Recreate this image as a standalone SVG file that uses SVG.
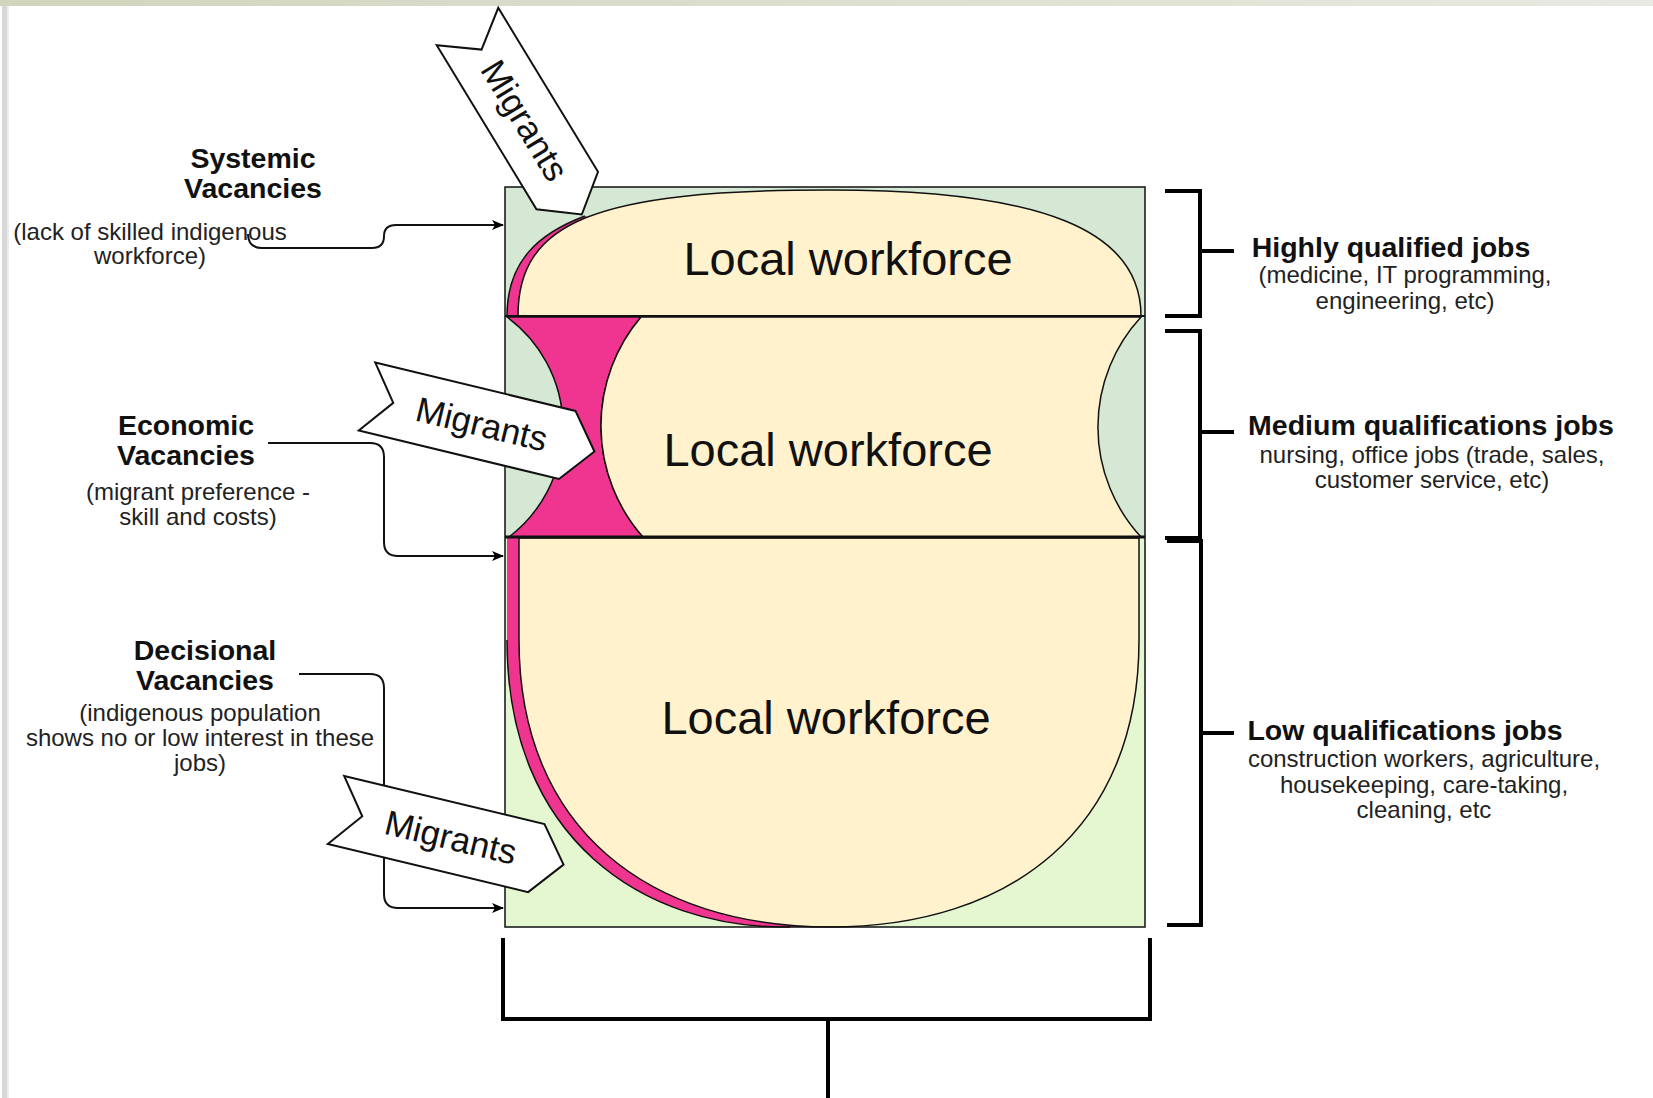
<svg xmlns="http://www.w3.org/2000/svg" width="1653" height="1098" viewBox="0 0 1653 1098">
<defs>
<linearGradient id="band" x1="0" y1="0" x2="1" y2="0">
<stop offset="0" stop-color="#d1d5bd"/>
<stop offset="1" stop-color="#e8e9e1"/>
</linearGradient>
<marker id="ah" viewBox="0 0 12 10" refX="11" refY="5" markerWidth="12" markerHeight="10" markerUnits="userSpaceOnUse" orient="auto">
<path d="M0,0 L12,5 L0,10 L3,5 Z" fill="#000"/>
</marker>
<path id="migArrowShort" d="M0,-36 L192,-36 L220,0 L192,36 L0,36 L27,0 Z"/>
<path id="migArrowLong" d="M0,-35 L206,-35 L234,0 L206,35 L0,35 L27,0 Z"/>
</defs>
<style>
.bold{font-family:"Liberation Sans",Arial,sans-serif;font-weight:bold;font-size:28.5px;fill:#111;text-anchor:middle}
.sub{font-family:"Liberation Sans",Arial,sans-serif;font-size:24px;fill:#222;text-anchor:middle}
.lw{font-family:"Liberation Sans",Arial,sans-serif;font-size:47px;fill:#111;text-anchor:middle}
.mig{font-family:"Liberation Sans",Arial,sans-serif;font-size:35px;fill:#111;text-anchor:middle}
.arrowshape{fill:#fff;stroke:#111;stroke-width:2}
.conn{fill:none;stroke:#111;stroke-width:2}
.brk{fill:none;stroke:#000;stroke-width:4}
.yel{fill:#fff2cc;stroke:#111;stroke-width:1.5}
.pink{fill:#f03590}
.out{fill:none;stroke:#111;stroke-width:1.5}
</style>
<rect width="1653" height="1098" fill="#fff"/>
<rect x="0" y="0" width="1653" height="6" fill="url(#band)"/>
<rect x="2" y="6" width="6" height="1092" fill="#d8d8d8"/>
<rect x="7" y="6" width="2" height="1092" fill="#ececec"/>

<g id="workforce-box">
<rect x="505" y="187" width="640" height="129" fill="#d5e8d4"/>
<rect x="505" y="316" width="640" height="221" fill="#d5e8d4"/>
<rect x="505" y="537" width="640" height="390" fill="#e4f7d0"/>
</g>

<g id="top-section">
<path class="pink" d="M507,316 C507,260 540,233 585,216 L640,240 L640,316 Z"/>
<path class="out" d="M507,316 C507,260 540,233 585,216"/>
<path class="yel" d="M518,316 C518,221.5 596,190 830,190 C1041.5,190 1141,230 1141,316 Z"/>
<text class="lw" x="848" y="275">Local workforce</text>
</g>

<g id="middle-section">
<path class="pink" stroke="#111" stroke-width="1.5" d="M507,317 L641,317 A168,168 0 0 0 643,537 L509,537 A137.5,137.5 0 0 0 507,317 Z"/>
<path class="yel" d="M641,317 L1141,317 A162,162 0 0 0 1141,537 L643,537 A168,168 0 0 1 641,317 Z"/>
<text class="lw" x="828" y="466">Local workforce</text>
</g>

<g id="bottom-section">
<path class="pink" d="M507,538 L507,640 C507,838 642,929 790,927 L830,927 L830,538 Z"/>
<path class="out" d="M507,640 C507,838 642,929 790,927"/>
<path class="yel" d="M519,538 L519,640 C519,830 650,927 830,927 C1010,927 1139,830 1139,640 L1139,538 Z"/>
<text class="lw" x="826" y="734">Local workforce</text>
</g>

<g id="box-outline">
<rect x="505" y="187" width="640" height="740" fill="none" stroke="#111" stroke-width="1.5"/>
<line x1="505" y1="316" x2="1145" y2="316" stroke="#111" stroke-width="2"/>
<line x1="505" y1="537" x2="1145" y2="537" stroke="#111" stroke-width="3"/>
</g>

<g id="connectors">
<path class="conn" marker-end="url(#ah)" d="M248,234 Q248,248 262,248 L372,248 Q384,248 384,236 Q384,225 396,225 L503,225"/>
<path class="conn" marker-end="url(#ah)" d="M268,443 L370,443 Q384,443 384,457 L384,542 Q384,556 398,556 L503,556"/>
<path class="conn" marker-end="url(#ah)" d="M299,674 L370,674 Q384,674 384,688 L384,894 Q384,908 398,908 L503,908"/>
</g>

<g id="migrants-top">
<use href="#migArrowShort" class="arrowshape" transform="translate(467.5,26.5) rotate(58.7)"/>
<text class="mig" transform="translate(467.5,26.5) rotate(58.7)" x="110" y="12">Migrants</text>
</g>
<g id="migrants-middle">
<use href="#migArrowLong" class="arrowshape" transform="translate(367,396.5) rotate(13.6)"/>
<text class="mig" transform="translate(367,396.5) rotate(13.6)" x="118" y="12">Migrants</text>
</g>
<g id="migrants-bottom">
<use href="#migArrowLong" class="arrowshape" transform="translate(336,810) rotate(13.5)"/>
<text class="mig" transform="translate(336,810) rotate(13.5)" x="118" y="12">Migrants</text>
</g>

<g id="label-systemic">
<text class="bold" x="253" y="168">Systemic</text>
<text class="bold" x="253" y="198">Vacancies</text>
<text class="sub" x="150" y="240">(lack of skilled indigenous</text>
<text class="sub" x="150" y="264">workforce)</text>
</g>
<g id="label-economic">
<text class="bold" x="186" y="435">Economic</text>
<text class="bold" x="186" y="465">Vacancies</text>
<text class="sub" x="198" y="500">(migrant preference -</text>
<text class="sub" x="198" y="525">skill and costs)</text>
</g>
<g id="label-decisional">
<text class="bold" x="205" y="660">Decisional</text>
<text class="bold" x="205" y="690">Vacancies</text>
<text class="sub" x="200" y="721">(indigenous population</text>
<text class="sub" x="200" y="746">shows no or low interest in these</text>
<text class="sub" x="200" y="771">jobs)</text>
</g>

<g id="bracket-high">
<path class="brk" d="M1165,191 L1200,191 L1200,316 L1165,316 M1200,251 L1234,251"/>
<text class="bold" x="1391" y="257">Highly qualified jobs</text>
<text class="sub" x="1405" y="283">(medicine, IT programming,</text>
<text class="sub" x="1405" y="309">engineering, etc)</text>
</g>
<g id="bracket-medium">
<path class="brk" d="M1165,331 L1200,331 L1200,538 L1165,538 M1200,432 L1234,432"/>
<text class="bold" x="1431" y="435">Medium qualifications jobs</text>
<text class="sub" x="1432" y="463">nursing, office jobs (trade, sales,</text>
<text class="sub" x="1432" y="488">customer service, etc)</text>
</g>
<g id="bracket-low">
<path class="brk" d="M1167,541 L1201,541 L1201,925 L1167,925 M1201,733 L1234,733"/>
<text class="bold" x="1405" y="740">Low qualifications jobs</text>
<text class="sub" x="1424" y="767">construction workers, agriculture,</text>
<text class="sub" x="1424" y="793">housekeeping, care-taking,</text>
<text class="sub" x="1424" y="818">cleaning, etc</text>
</g>

<g id="bracket-bottom">
<path class="brk" d="M503,938 L503,1019 L1150,1019 L1150,938 M828,1019 L828,1098"/>
</g>
</svg>
